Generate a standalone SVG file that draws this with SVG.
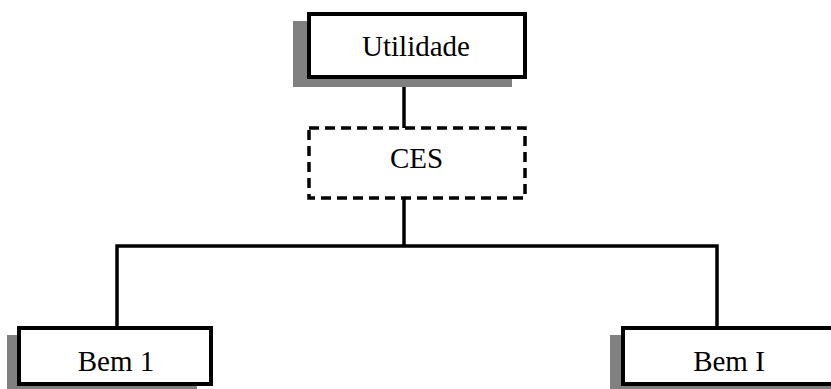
<svg xmlns="http://www.w3.org/2000/svg" width="831" height="389" viewBox="0 0 831 389">
<style>
.shadow{fill:#808080;stroke:none}
.box{fill:#ffffff;stroke:#000000;stroke-width:4}
.dbox{fill:#ffffff;stroke:#000000;stroke-width:3.5;stroke-dasharray:10 6}
.lbl{font-family:"Liberation Serif","Times New Roman",serif;font-size:29px;fill:#000000;text-anchor:middle}
.conn{fill:none;stroke:#000000;stroke-width:3.5}
</style>
<rect width="831" height="389" fill="#ffffff"/>
<g id="connectors">
<line class="conn" x1="404" y1="78" x2="404" y2="128"/>
<line class="conn" x1="404" y1="198" x2="404" y2="246"/>
<polyline class="conn" points="117,328 117,246 717,246 717,328"/>
</g>
<g id="utilidade">
<rect class="shadow" x="293" y="21" width="219" height="66"/>
<rect class="box" x="309" y="14" width="216" height="63"/>
<text class="lbl" x="416" y="56">Utilidade</text>
</g>
<g id="ces">
<rect class="dbox" x="309" y="128" width="216" height="70"/>
<text class="lbl" x="416.5" y="168">CES</text>
</g>
<g id="bem1">
<rect class="shadow" x="7" y="335" width="190" height="54"/>
<rect class="box" x="19" y="328" width="192" height="56"/>
<text class="lbl" x="116" y="371">Bem 1</text>
</g>
<g id="bemI">
<rect class="shadow" x="610" y="335" width="230" height="54"/>
<rect class="box" x="623" y="328" width="230" height="56"/>
<text class="lbl" x="729" y="371">Bem I</text>
</g>
</svg>
